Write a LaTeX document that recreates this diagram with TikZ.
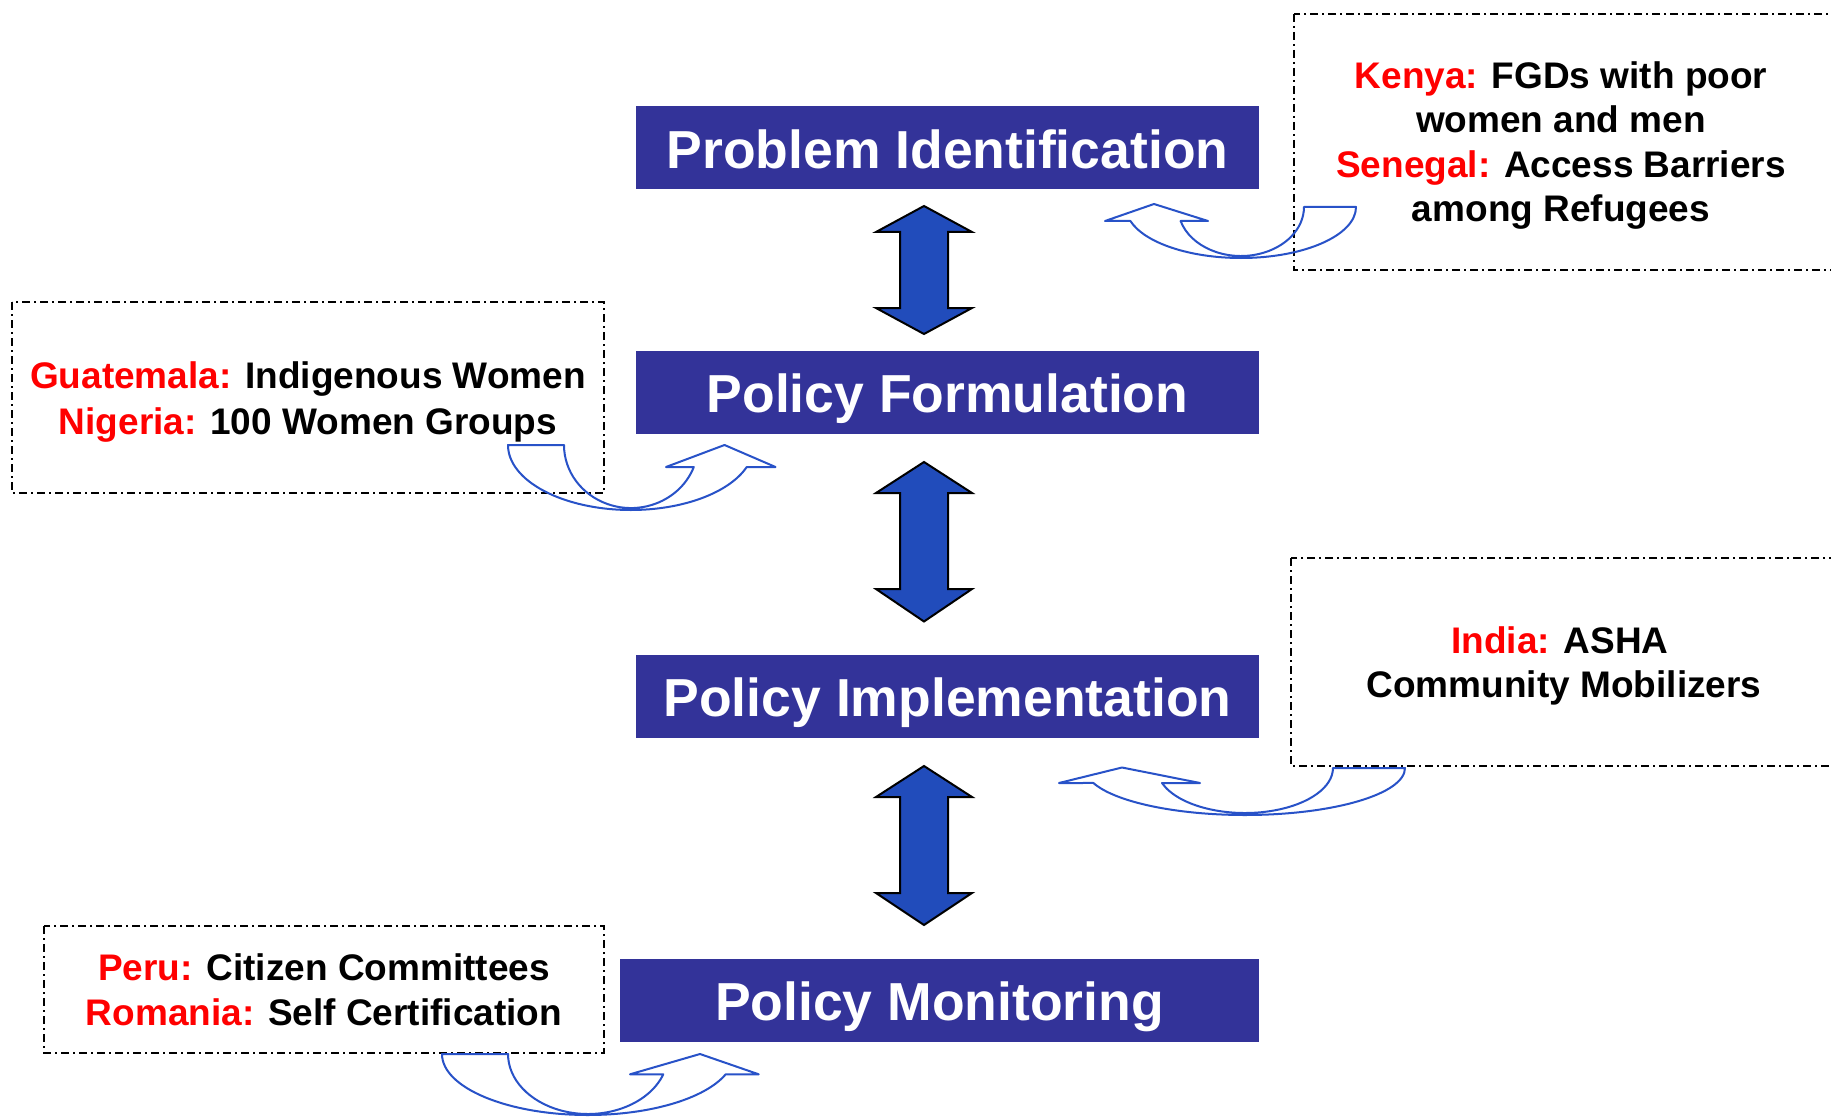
\documentclass[tikz,border=0pt]{standalone}
\usepackage{fontspec}
\setmainfont{Liberation Sans}
\usetikzlibrary{calc}
\definecolor{boxblue}{RGB}{51,51,153}
\definecolor{arrblue}{RGB}{33,76,187}
\definecolor{curvblue}{RGB}{40,82,200}
\newcommand\ctry[1]{\textcolor{red}{#1}}
\tikzset{
  mainbox/.style={fill=boxblue, text=white, font=\fontsize{53.5}{64}\selectfont\bfseries,
    inner sep=0pt, text height=50pt, text depth=8.8pt, minimum height=83pt},
  sidetext/.style={font=\fontsize{37}{45}\selectfont\bfseries, inner sep=0pt, anchor=base},
  dashbox/.style={draw=black, line width=1.5pt, dash pattern=on 8pt off 4pt on 2pt off 4pt},
  blockarrow/.style={fill=arrblue, draw=black, line width=2pt, line join=miter},
  curvarrow/.style={draw=curvblue, line width=2pt, line join=round}
}
\begin{document}
\begin{tikzpicture}[x=1pt,y=1pt,yscale=-1]
\useasboundingbox (0,0) rectangle (1831,1118);
\clip (0,0) rectangle (1831,1118);
\fill[white] (0,0) rectangle (1831,1118);

% dashed example boxes
\draw[dashbox] (1294,14) rectangle (1860,270);
\draw[dashbox] (12,302) rectangle (604,493);
\draw[dashbox] (1291,558) rectangle (1860,766);
\draw[dashbox] (44,926) rectangle (604,1053);

% stage boxes
\node[mainbox, minimum width=623pt] (pi) at (947.5,147.5) {Problem Identification};
\node[mainbox, minimum width=623pt] (pf) at (947.5,392) {Policy Formulation};
\node[mainbox, minimum width=623pt] (pim) at (947.5,696) {Policy Implementation};
\node[mainbox, minimum width=639pt] (pm) at (939.5,1000) {Policy Monitoring};

% double block arrows
\draw[blockarrow] (924,206) -- (972,232) -- (948,232) -- (948,308) -- (972,308) -- (924,334)
  -- (876,308) -- (900,308) -- (900,232) -- (876,232) -- cycle;
\draw[blockarrow] (924,462) -- (972,493) -- (948,493) -- (948,589) -- (972,589) -- (924,621.5)
  -- (876,589) -- (900,589) -- (900,493) -- (876,493) -- cycle;
\draw[blockarrow] (924,766) -- (972,797) -- (948,797) -- (948,893) -- (972,893) -- (924,925)
  -- (876,893) -- (900,893) -- (900,797) -- (876,797) -- cycle;

% side texts
\node[sidetext] (k1) at (1561,88.5) {\ctry{Kenya:} FGDs with poor};
\node[sidetext] (k2) at (1561,133) {women and men};
\node[sidetext] (k3) at (1561,177.5) {\ctry{Senegal:} Access Barriers};
\node[sidetext] (k4) at (1561,222) {among Refugees};

\node[sidetext] (g1) at (308,388.5) {\ctry{Guatemala:} Indigenous Women};
\node[sidetext] (g2) at (308,434) {\ctry{Nigeria:} 100 Women Groups};

\node[sidetext] (i1) at (1560,653) {\ctry{India:} ASHA};
\node[sidetext] (i2) at (1564,697.5) {Community Mobilizers};

\node[sidetext] (p1) at (324,980) {\ctry{Peru:} Citizen Committees};
\node[sidetext] (p2) at (324,1025) {\ctry{Romania:} Self Certification};

% curved arrows
% Kenya -> Problem Identification (pointing left)
\draw[curvarrow] (1304,207) -- (1356,207)
  arc[start angle=0, end angle=164.07, x radius=115, y radius=51]
  -- (1105,221) -- (1154,204) -- (1208,221) -- (1180.6,221)
  arc[start angle=163.4, end angle=0, x radius=63, y radius=49] -- cycle;
% Guatemala -> Policy Formulation (pointing right)
\draw[curvarrow] (564,445) -- (508,445)
  arc[start angle=180, end angle=19.8, x radius=123, y radius=65]
  -- (775.5,467) -- (724.5,445) -- (666,467) -- (693.8,467)
  arc[start angle=20.4, end angle=180, x radius=67, y radius=63] -- cycle;
% India -> Policy Implementation (pointing left)
\draw[curvarrow] (1333,768) -- (1405,768)
  arc[start angle=0, end angle=161.4, x radius=160, y radius=47]
  -- (1059,783) -- (1122,767.5) -- (1200,783) -- (1162,783)
  arc[start angle=160.53, end angle=0, x radius=88, y radius=45] -- cycle;
% Peru -> Policy Monitoring (pointing right)
\draw[curvarrow] (508,1054) -- (442,1054)
  arc[start angle=180, end angle=19.44, x radius=146, y radius=61]
  -- (758.7,1074.3) -- (700,1054) -- (630,1074.3) -- (663.3,1074.3)
  arc[start angle=19.78, end angle=180, x radius=80, y radius=60] -- cycle;
\end{tikzpicture}
\end{document}
